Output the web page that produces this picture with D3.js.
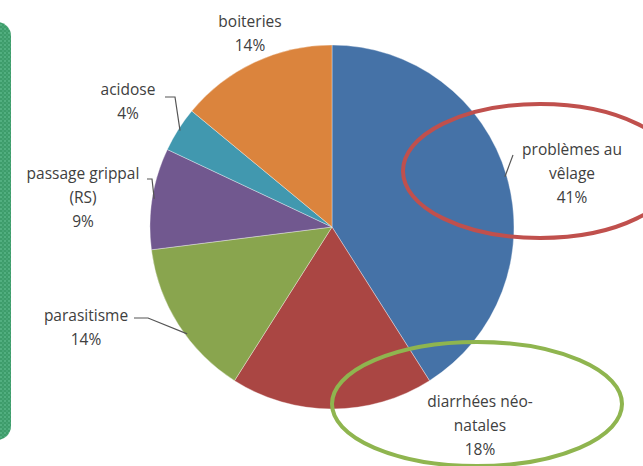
<!DOCTYPE html>
<html><head><meta charset="utf-8">
<script src="https://cdn.jsdelivr.net/npm/d3@7"></script>
<style>body{margin:0;background:#fff}svg{display:block}</style>
</head><body>
<svg id="c" width="643" height="466"></svg>
<script>
const categories = ["problèmes au vêlage","diarrhées néo-natales","parasitisme","passage grippal (RS)","acidose","boiteries"];
const values = [41, 18, 14, 9, 4, 14];
const colors = ["#4572a7","#aa4643","#89a54e","#71588f","#4198af","#db843d"];
const labelLines = [["problèmes au","vêlage","41%"],["diarrhées néo-","natales","18%"],["parasitisme","14%"],["passage grippal","(RS)","9%"],["acidose","4%"],["boiteries","14%"]];

const svg = d3.select("#c");
const cx = 332, cy = 227, R = 182;

// textured green panel on the left
const defs = svg.append("defs");
const pat = defs.append("pattern").attr("id","tex").attr("width",4).attr("height",4).attr("patternUnits","userSpaceOnUse");
pat.append("rect").attr("width",4).attr("height",4).attr("fill","#3d9c6a");
pat.append("rect").attr("x",0).attr("y",0).attr("width",2).attr("height",2).attr("fill","#52af80");
pat.append("rect").attr("x",2).attr("y",2).attr("width",2).attr("height",2).attr("fill","#48a576");
svg.append("rect").attr("x",-30).attr("y",22).attr("width",41).attr("height",418).attr("rx",14).attr("fill","url(#tex)");

const pie = d3.pie().sort(null).value(d => d)(values);
const arc = d3.arc().innerRadius(0).outerRadius(R);
const g = svg.append("g").attr("transform",`translate(${cx},${cy})`);
g.selectAll("path").data(pie).enter().append("path")
  .attr("d", arc).attr("fill",(d,i)=>colors[i])
  .attr("stroke","rgba(255,255,255,0.35)").attr("stroke-width",1);

const labelPos = [[572,150],[480,402],[86,316],[83,174],[128,90],[250,22]];
const lineH = 24;
const tg = svg.append("g").attr("font-family","'Open Sans', Lato, sans-serif").attr("font-size","15.5px").attr("fill","#404040").attr("text-anchor","middle");
labelLines.forEach((lines,i)=>{
  lines.forEach((t,j)=>{
    tg.append("text").attr("x",labelPos[i][0]).attr("y",labelPos[i][1]+j*lineH).attr("dy","0.35em").text(t);
  });
});

// leader lines, each ending on its slice's outer edge
function edge(i, frac){
  const d = pie[i];
  const a = d.startAngle + (d.endAngle - d.startAngle)*frac;
  return [cx + (R-2)*Math.sin(a), cy - (R-2)*Math.cos(a)];
}
const leaders = [
  {i:0, f:0.5, pts:[[513,155]]},
  {i:2, f:0.42, pts:[[134,318],[148,318]]},
  {i:3, f:0.5, pts:[[147,179],[152,179]]},
  {i:4, f:0.5, pts:[[165,97],[175,97]]}
];
const line = d3.line();
leaders.forEach(L=>{
  const pts = L.pts.concat([edge(L.i, L.f)]);
  svg.append("path").attr("d", line(pts)).attr("fill","none").attr("stroke","#555").attr("stroke-width",1.2);
});

// hand-drawn highlight ellipses
svg.append("ellipse").attr("cx",540).attr("cy",171).attr("rx",137).attr("ry",67)
  .attr("fill","none").attr("stroke","#c0504d").attr("stroke-width",4);
svg.append("ellipse").attr("cx",477).attr("cy",404).attr("rx",145).attr("ry",62)
  .attr("fill","none").attr("stroke","#8fb54f").attr("stroke-width",4);
</script>
</body></html>
